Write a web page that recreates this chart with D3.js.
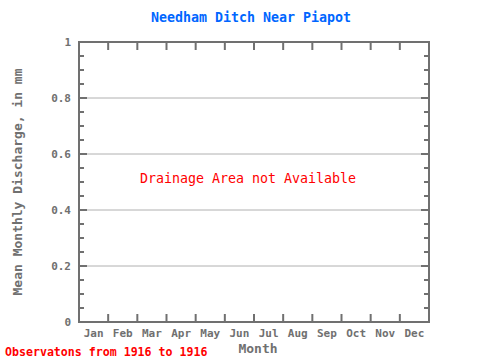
<!DOCTYPE html>
<html><head><meta charset="utf-8">
<script src="https://cdn.jsdelivr.net/npm/d3@7"></script>
<style>body{margin:0;background:#fff}text{font-family:"DejaVu Sans Mono",monospace}</style>
</head><body><svg id="c" width="480" height="360"></svg>
<script>
const months = ["Jan","Feb","Mar","Apr","May","Jun","Jul","Aug","Sep","Oct","Nov","Dec"];
const yTicks = [0,0.2,0.4,0.6,0.8,1];
const yMinor = d3.range(0,1.0001,0.05);
const title = "Needham Ditch Near Piapot";
const note = "Drainage Area not Available";
const footer = "Observatons from 1916 to 1916";

const svg = d3.select("#c");
const L=79,R=429,T=42,B=322;
const gray="#707070";
const x = d3.scaleBand().domain(months).range([L,R]);
const y = d3.scaleLinear().domain([0,1]).range([B,T]);

// gridlines
svg.append("g").selectAll("line").data(yTicks.filter(d=>d>0&&d<1)).join("line")
 .attr("x1",L).attr("x2",R).attr("y1",d=>y(d)).attr("y2",d=>y(d))
 .attr("stroke","#b0b0b0").attr("stroke-width",1);

// minor y ticks left and right
const g=svg.append("g").attr("stroke",gray).attr("stroke-width",2);
yMinor.forEach(v=>{
  const major = yTicks.some(t=>Math.abs(t-v)<1e-6);
  const len = major?8:5;
  g.append("line").attr("x1",L).attr("x2",L+len).attr("y1",y(v)).attr("y2",y(v));
  g.append("line").attr("x1",R).attr("x2",R-len).attr("y1",y(v)).attr("y2",y(v));
});
// x ticks at month boundaries
months.slice(1).forEach(m=>{
  const xv=x(m);
  g.append("line").attr("x1",xv).attr("x2",xv).attr("y1",B).attr("y2",B-8);
  g.append("line").attr("x1",xv).attr("x2",xv).attr("y1",T).attr("y2",T+8);
});
// frame
svg.append("rect").attr("x",L).attr("y",T).attr("width",R-L).attr("height",B-T)
 .attr("fill","none").attr("stroke",gray).attr("stroke-width",2);

// y labels
svg.append("g").selectAll("text").data(yTicks).join("text")
 .attr("x",71).attr("y",d=>y(d)+4).attr("text-anchor","end")
 .attr("fill",gray).attr("font-size",11).attr("font-weight","bold").text(d=>d3.format("~g")(d));
// x labels
svg.append("g").selectAll("text").data(months).join("text")
 .attr("x",d=>x(d)+x.bandwidth()/2).attr("y",337).attr("text-anchor","middle")
 .attr("fill",gray).attr("font-size",11).attr("font-weight","bold").text(d=>d);

svg.append("text").attr("x",251).attr("y",22).attr("text-anchor","middle")
 .attr("fill","#0066ff").attr("font-size",13.3).attr("font-weight","bold").text(title);
svg.append("text").attr("x",248).attr("y",183).attr("text-anchor","middle")
 .attr("fill","#ff0000").attr("font-size",13.3).text(note);
svg.append("text").attr("x",258).attr("y",353).attr("text-anchor","middle")
 .attr("fill",gray).attr("font-size",13).attr("font-weight","bold").text("Month");
svg.append("text").attr("transform","translate(22,182) rotate(-90)").attr("text-anchor","middle")
 .attr("fill",gray).attr("font-size",13).attr("font-weight","bold").text("Mean Monthly Discharge, in mm");
svg.append("text").attr("x",5).attr("y",356)
 .attr("fill","#ff0000").attr("font-size",11.6).attr("font-weight","bold").text(footer);
</script></body></html>
